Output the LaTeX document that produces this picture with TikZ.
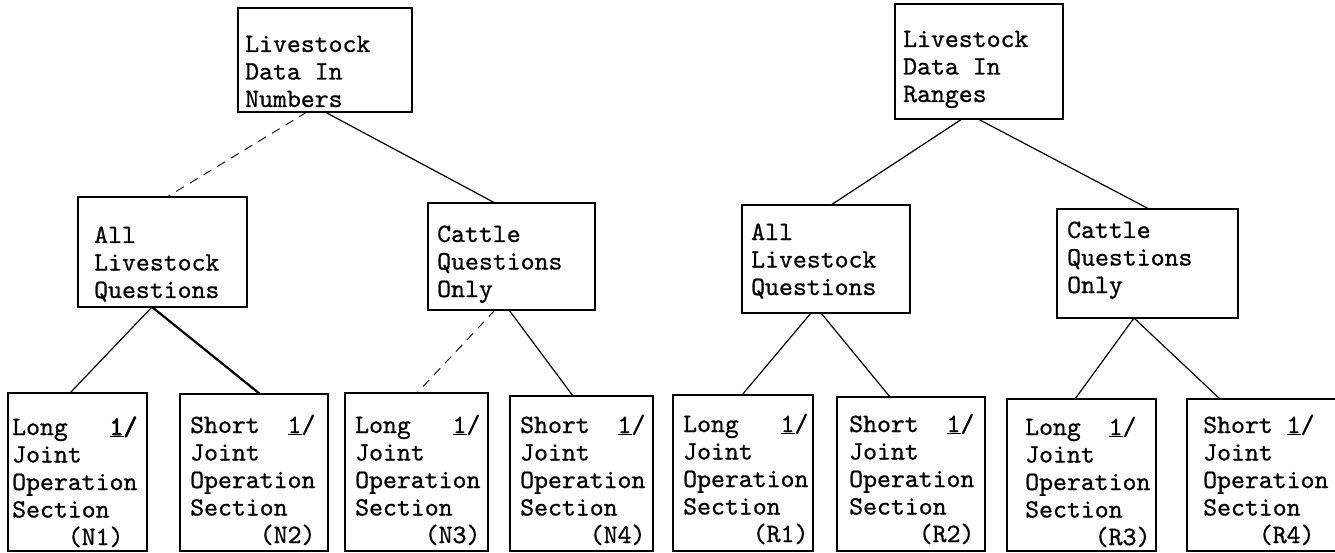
\documentclass[tikz,border=0pt]{standalone}
\usepackage{fontspec}
\newfontfamily\tw[FakeBold=0.7]{lmmono10-regular.otf}
\newfontfamily\twb[FakeBold=3]{lmmono10-regular.otf}
\usetikzlibrary{calc}
\begin{document}
\begin{tikzpicture}[x=1pt,y=-1pt,
  box/.style={draw, line width=1.3pt, inner sep=0pt, outer sep=0pt, anchor=north west, rectangle},
  txt/.style={font=\fontsize{26.5}{27.5}\selectfont\tw, align=left, inner sep=0pt, anchor=base west},
  link/.style={line width=1.2pt},
  faint/.style={line width=0.9pt, dash pattern=on 9pt off 7pt},
  heavy/.style={line width=2.2pt}]
\useasboundingbox (0,0) rectangle (1335,553);
\clip (0,0) rectangle (1335,553);
% top level
\node[box, minimum width=174pt, minimum height=104pt] (TL) at (238,8) {};
\node[box, minimum width=168pt, minimum height=115pt] (TR) at (895,4) {};
% middle level
\node[box, minimum width=169pt, minimum height=110pt] (NA) at (78,197) {};
\node[box, minimum width=167pt, minimum height=107pt] (NC) at (428,203) {};
\node[box, minimum width=168pt, minimum height=108pt] (RA) at (742,205) {};
\node[box, minimum width=181pt, minimum height=109pt] (RC) at (1057,209) {};
% bottom level
\node[box, minimum width=139pt, minimum height=158pt] (N1) at (8,393) {};
\node[box, minimum width=148pt, minimum height=157pt] (N2) at (180,394) {};
\node[box, minimum width=143pt, minimum height=158pt] (N3) at (345,393) {};
\node[box, minimum width=143pt, minimum height=155pt] (N4) at (510,396) {};
\node[box, minimum width=140pt, minimum height=156pt] (R1) at (673,395) {};
\node[box, minimum width=148pt, minimum height=154pt] (R2) at (837,397) {};
\node[box, minimum width=149pt, minimum height=152pt] (R3) at (1007,399) {};
\node[box, minimum width=160pt, minimum height=152pt] (R4) at (1187,399) {};
% texts (anchor = baseline of last line)
\node[txt] (tTL) at ([xshift=7pt,yshift=-99pt]TL.north west) {Livestock\\Data In\\Numbers};
\node[txt] (tTR) at ([xshift=8pt,yshift=-98pt]TR.north west) {Livestock\\Data In\\Ranges};
\node[txt] (tNA) at ([xshift=16pt,yshift=-101pt]NA.north west) {All\\Livestock\\Questions};
\node[txt] (tNC) at ([xshift=9pt,yshift=-94pt]NC.north west) {Cattle\\Questions\\Only};
\node[txt] (tRA) at ([xshift=9pt,yshift=-90pt]RA.north west) {All\\Livestock\\Questions};
\node[txt] (tRC) at ([xshift=10pt,yshift=-84pt]RC.north west) {Cattle\\Questions\\Only};
\node[txt] (tN1) at ([xshift=4pt,yshift=-152pt]N1.north west) {Long\ \ \ {\twb\underline{1}/}\\Joint\\Operation\\Section\\\hphantom{XXXX}(N1)};
\node[txt] (tN2) at ([xshift=10pt,yshift=-149pt]N2.north west) {Short\ \ \underline{1}/\\Joint\\Operation\\Section\\\hphantom{XXXXX}(N2)};
\node[txt] (tN3) at ([xshift=10pt,yshift=-150pt]N3.north west) {Long\ \ \ \underline{1}/\\Joint\\Operation\\Section\\\hphantom{XXXXX}(N3)};
\node[txt] (tN4) at ([xshift=10pt,yshift=-147pt]N4.north west) {Short\ \ \underline{1}/\\Joint\\Operation\\Section\\\hphantom{XXXXX}(N4)};
\node[txt] (tR1) at ([xshift=10pt,yshift=-147pt]R1.north west) {Long\ \ \ \underline{1}/\\Joint\\Operation\\Section\\\hphantom{XXXXX}(R1)};
\node[txt] (tR2) at ([xshift=12pt,yshift=-145pt]R2.north west) {Short\ \ \underline{1}/\\Joint\\Operation\\Section\\\hphantom{XXXXX}(R2)};
\node[txt] (tR3) at ([xshift=18pt,yshift=-146pt]R3.north west) {Long\ \ \underline{1}/\\Joint\\Operation\\Section\\\hphantom{XXXXX}(R3)};
\node[txt] (tR4) at ([xshift=16pt,yshift=-144pt]R4.north west) {Short\ \underline{1}/\\Joint\\Operation\\Section\\\hphantom{XXXX}(R4)};
% connectors
\draw[faint] ([xshift=69pt]TL.south west) -- ([xshift=89pt]NA.north west);
\draw[link] ([xshift=87pt]TL.south west) -- ([xshift=67pt]NC.north west);
\draw[link] ([xshift=67pt]TR.south west) -- ([xshift=89pt]RA.north west);
\draw[link] ([xshift=83pt]TR.south west) -- ([xshift=92pt]RC.north west);
\draw[link] ([xshift=74pt]NA.south west) -- ([xshift=62pt]N1.north west);
\draw[heavy] ([xshift=74pt]NA.south west) -- ([xshift=80pt]N2.north west);
\draw[faint] ([xshift=67pt]NC.south west) -- ([xshift=72pt]N3.north west);
\draw[link] ([xshift=81pt]NC.south west) -- ([xshift=63pt]N4.north west);
\draw[link] ([xshift=69pt]RA.south west) -- ([xshift=69pt]R1.north west);
\draw[link] ([xshift=79pt]RA.south west) -- ([xshift=53pt]R2.north west);
\draw[link] ([xshift=77pt]RC.south west) -- ([xshift=68pt]R3.north west);
\draw[link] ([xshift=77pt]RC.south west) -- ([xshift=33pt]R4.north west);
\end{tikzpicture}
\end{document}
